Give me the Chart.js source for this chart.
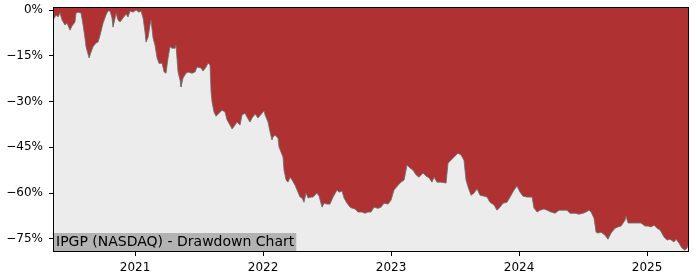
<!DOCTYPE html>
<html>
<head>
<meta charset="utf-8">
<script src="https://cdn.jsdelivr.net/npm/chart.js@4.4.1/dist/chart.umd.min.js"></script>
<style>
html,body{margin:0;padding:0;background:#fff;}
#wrap{width:700px;height:280px;position:relative;}
</style>
</head>
<body>
<div id="wrap"><canvas id="c" width="700" height="280"></canvas></div>
<script>
// Decimal-year positions of observations
const years = [
2020.359,2020.383,2020.398,2020.414,2020.430,2020.453,2020.469,2020.492,2020.508,2020.531,
2020.539,2020.555,2020.578,2020.594,2020.609,2020.617,2020.641,2020.656,2020.672,2020.695,
2020.711,2020.727,2020.750,2020.773,2020.789,2020.805,2020.820,2020.828,2020.844,2020.852,
2020.867,2020.883,2020.906,2020.930,2020.945,2020.961,2020.984,2021.008,2021.031,2021.047,
2021.063,2021.078,2021.086,2021.102,2021.117,2021.125,2021.141,2021.156,2021.172,2021.188,
2021.211,2021.227,2021.242,2021.258,2021.273,2021.289,2021.313,2021.320,2021.336,2021.352,
2021.359,2021.375,2021.398,2021.414,2021.445,2021.469,2021.484,2021.516,2021.531,2021.555,
2021.570,2021.586,2021.594,2021.602,2021.617,2021.633,2021.656,2021.680,2021.703,2021.719,
2021.742,2021.758,2021.781,2021.797,2021.820,2021.836,2021.859,2021.875,2021.898,2021.914,
2021.938,2021.961,2021.992,2022.008,2022.016,2022.039,2022.055,2022.070,2022.078,2022.094,
2022.117,2022.125,2022.141,2022.156,2022.164,2022.180,2022.195,2022.211,2022.227,2022.250,
2022.266,2022.289,2022.305,2022.320,2022.336,2022.352,2022.375,2022.391,2022.422,2022.438,
2022.461,2022.477,2022.500,2022.523,2022.547,2022.578,2022.594,2022.617,2022.633,2022.656,
2022.680,2022.695,2022.719,2022.742,2022.773,2022.797,2022.820,2022.844,2022.867,2022.898,
2022.922,2022.945,2022.977,2023.000,2023.023,2023.055,2023.078,2023.102,2023.125,2023.141,
2023.172,2023.195,2023.219,2023.250,2023.273,2023.297,2023.320,2023.336,2023.359,2023.391,
2023.430,2023.445,2023.469,2023.492,2023.523,2023.547,2023.570,2023.586,2023.602,2023.625,
2023.648,2023.672,2023.695,2023.727,2023.750,2023.773,2023.805,2023.828,2023.852,2023.875,
2023.906,2023.930,2023.961,2023.984,2024.008,2024.031,2024.063,2024.102,2024.117,2024.141,
2024.164,2024.195,2024.219,2024.250,2024.281,2024.313,2024.352,2024.375,2024.398,2024.438,
2024.469,2024.500,2024.523,2024.547,2024.563,2024.586,2024.602,2024.617,2024.641,2024.672,
2024.695,2024.719,2024.750,2024.773,2024.797,2024.828,2024.836,2024.852,2024.875,2024.914,
2024.953,2024.984,2025.008,2025.031,2025.055,2025.078,2025.102,2025.133,2025.156,2025.180,
2025.211,2025.227,2025.250,2025.273,2025.297,2025.313,2025.328
];
// Drawdown from running peak, percent
const drawdown = [
-3.3,-1.6,-2.3,-1.0,-3.3,-4.9,-4.3,-6.6,-5.2,-3.9,
-1.0,-0.7,-1.0,-4.9,-9.2,-12.0,-15.7,-13.8,-12.0,-10.8,
-10.5,-8.2,-4.3,-1.6,-0.3,-0.3,-2.6,-5.6,-2.6,-1.0,
-3.3,-3.9,-2.6,-1.3,-2.3,-0.3,-0.7,0.0,-0.7,-0.3,
-2.6,-7.2,-10.5,-8.9,-4.9,-3.3,-9.2,-11.5,-15.7,-17.5,
-17.4,-20.3,-20.7,-15.7,-12.0,-12.5,-12.5,-11.5,-20.3,-23.0,
-25.2,-22.3,-20.7,-20.3,-20.7,-20.3,-18.7,-19.0,-20.0,-18.7,
-17.4,-18.0,-26.9,-30.2,-33.4,-34.8,-33.8,-32.8,-33.4,-36.0,
-37.7,-39.0,-37.7,-36.7,-37.7,-34.4,-33.8,-35.1,-36.7,-35.4,
-34.1,-35.4,-33.8,-33.1,-34.4,-36.7,-40.0,-42.6,-41.6,-41.0,
-42.0,-44.9,-46.6,-48.2,-52.5,-55.7,-56.4,-54.8,-55.7,-57.4,
-59.0,-61.3,-61.6,-63.0,-60.0,-61.6,-61.3,-61.3,-60.0,-61.0,
-64.6,-63.3,-63.6,-63.6,-61.3,-59.0,-59.7,-59.3,-61.6,-63.3,
-64.6,-64.9,-65.2,-66.2,-66.2,-66.6,-66.2,-66.2,-64.6,-65.0,
-64.6,-63.3,-63.6,-62.3,-59.0,-57.4,-56.4,-55.7,-50.8,-51.5,
-52.5,-54.0,-54.8,-53.4,-54.4,-55.0,-56.4,-54.8,-56.4,-56.4,
-56.7,-50.2,-49.2,-48.2,-46.9,-47.5,-49.2,-55.7,-58.0,-60.7,
-60.0,-58.6,-60.7,-61.0,-61.3,-63.0,-63.9,-65.6,-64.6,-63.3,
-63.0,-61.3,-59.0,-57.7,-59.7,-61.0,-61.3,-61.3,-64.9,-66.2,
-65.6,-65.2,-65.6,-66.2,-66.6,-65.6,-65.6,-65.6,-66.6,-66.6,
-66.9,-66.6,-66.2,-65.6,-66.2,-68.2,-72.8,-73.1,-72.8,-73.8,
-75.1,-73.1,-71.5,-71.1,-70.8,-68.9,-67.5,-69.8,-69.8,-69.8,
-69.8,-70.8,-70.8,-71.1,-70.5,-71.5,-72.1,-74.4,-75.4,-75.1,
-76.0,-75.1,-76.4,-78.0,-78.7,-78.0,-76.4
];
const xTickYears = [2021, 2022, 2023, 2024, 2025];
const yTickValues = [0, -15, -30, -45, -60, -75];
const chartLabel = "IPGP (NASDAQ) - Drawdown Chart";

const points = years.map((x, i) => ({x: x, y: drawdown[i]}));

const bgPlugin = {
  id: 'bg',
  beforeDatasetsDraw(chart) {
    const {ctx, chartArea: a} = chart;
    ctx.save();
    ctx.fillStyle = '#ececec';
    ctx.fillRect(a.left, a.top, a.right - a.left, a.bottom - a.top);
    ctx.restore();
  },
  afterDatasetsDraw(chart) {
    const {ctx, chartArea: a} = chart;
    ctx.save();
    // label box
    ctx.font = '14px "DejaVu Sans"';
    const w = ctx.measureText(chartLabel).width;
    ctx.fillStyle = '#b3b3b3';
    ctx.fillRect(a.left, a.bottom - 19, w + 5, 19);
    ctx.fillStyle = '#000';
    ctx.textBaseline = 'middle';
    ctx.fillText(chartLabel, a.left + 3, a.bottom - 9.5);
    // frame
    ctx.strokeStyle = '#000';
    ctx.lineWidth = 1;
    ctx.strokeRect(Math.round(a.left) + 0.5, Math.round(a.top) + 0.5,
                   Math.round(a.right - a.left) - 1, Math.round(a.bottom - a.top) - 1);
    ctx.restore();
  }
};

new Chart(document.getElementById('c'), {
  type: 'line',
  data: {
    datasets: [{
      data: points,
      borderColor: 'rgba(110,110,110,0.85)',
      borderWidth: 1,
      backgroundColor: '#b03131',
      fill: 'end',
      pointRadius: 0,
      tension: 0
    }]
  },
  options: {
    responsive: false,
    animation: false,
    events: [],
    layout: {padding: {top: 7, right: 11, left: 0, bottom: 0}},
    plugins: {legend: {display: false}, tooltip: {enabled: false}},
    scales: {
      x: {
        type: 'linear',
        min: 2020.359,
        max: 2025.328,
        border: {display: false},
        grid: {drawOnChartArea: false, drawTicks: true, tickLength: 4, tickColor: '#000'},
        ticks: {
          color: '#000',
          font: {family: '"DejaVu Sans"', size: 12},
          padding: 5,
          maxRotation: 0,
          autoSkip: false,
          callback: v => String(v)
        },
        afterBuildTicks: s => { s.ticks = xTickYears.map(v => ({value: v})); },
        afterFit: s => { s.height = 28; s.paddingLeft = 0; s.paddingRight = 0; }
      },
      y: {
        min: -79.3,
        max: 1.0,
        border: {display: false},
        grid: {drawOnChartArea: false, drawTicks: true, tickLength: 4, tickColor: '#000'},
        ticks: {
          color: '#000',
          font: {family: '"DejaVu Sans"', size: 12},
          padding: 6,
          autoSkip: false,
          callback: v => v === 0 ? '0%' : '\u2212' + Math.abs(v) + '%'
        },
        afterBuildTicks: s => { s.ticks = yTickValues.map(v => ({value: v})); },
        afterFit: s => { s.width = 53; s.paddingTop = 0; s.paddingBottom = 0; }
      }
    }
  },
  plugins: [bgPlugin]
});
</script>
</body>
</html>
